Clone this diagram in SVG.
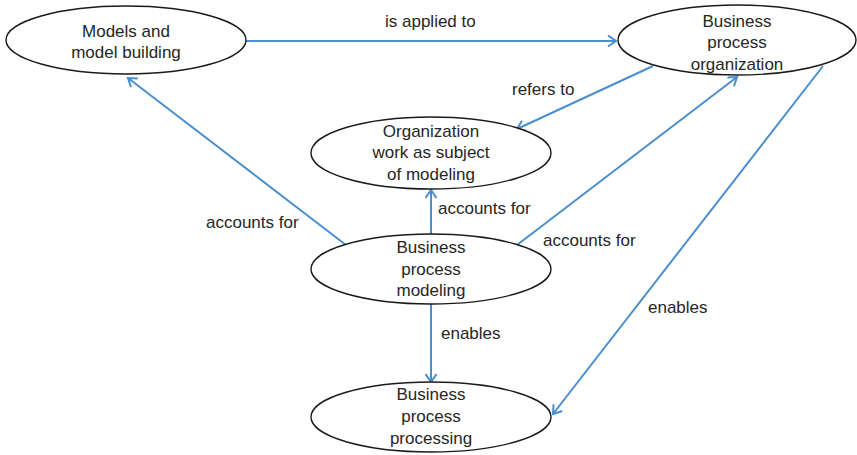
<svg xmlns="http://www.w3.org/2000/svg" width="857" height="455" viewBox="0 0 857 455">
<style>
.node{fill:#fff;stroke:#1a1a1a;stroke-width:1.4}
.t{font-family:"Liberation Sans",Arial,sans-serif;font-size:17px;fill:#262626;text-anchor:middle}
.l{font-family:"Liberation Sans",Arial,sans-serif;font-size:17px;fill:#262626}
.c{fill:none;stroke:#4A8ECF;stroke-width:2;marker-end:url(#ah)}
</style>
<defs>
<marker id="ah" markerUnits="userSpaceOnUse" markerWidth="14" markerHeight="14" refX="10" refY="6" orient="auto">
<path d="M2,0.5 L10,6 L2,11.5" fill="none" stroke="#4A8ECF" stroke-width="2"/>
</marker>
</defs>
<g id="connectors">
<line class="c" x1="246" y1="41" x2="616" y2="41"/>
<line class="c" x1="653" y1="66" x2="517" y2="129"/>
<line class="c" x1="346" y1="245" x2="128" y2="78"/>
<line class="c" x1="431" y1="234" x2="431" y2="190"/>
<line class="c" x1="517" y1="245" x2="737" y2="77"/>
<line class="c" x1="431" y1="304" x2="431" y2="382"/>
<line class="c" x1="823" y1="66" x2="553" y2="414"/>
<text class="l" x="385" y="27">is applied to</text>
<text class="l" x="512" y="95">refers to</text>
<text class="l" x="206" y="228">accounts for</text>
<text class="l" x="438" y="214">accounts for</text>
<text class="l" x="543" y="246">accounts for</text>
<text class="l" x="441" y="339">enables</text>
<text class="l" x="648" y="313">enables</text>
</g>
<g id="models">
<ellipse class="node" cx="126" cy="40" rx="120" ry="34"/>
<text class="t" x="126" y="37">Models and</text>
<text class="t" x="126" y="58">model building</text>
</g>
<g id="bpo">
<ellipse class="node" cx="737" cy="40" rx="119" ry="35"/>
<text class="t" x="737" y="27">Business</text>
<text class="t" x="737" y="48">process</text>
<text class="t" x="737" y="70">organization</text>
</g>
<g id="orgwork">
<ellipse class="node" cx="431" cy="153" rx="120" ry="36"/>
<text class="t" x="431" y="137">Organization</text>
<text class="t" x="431" y="158">work as subject</text>
<text class="t" x="431" y="180">of modeling</text>
</g>
<g id="bpm">
<ellipse class="node" cx="431" cy="269" rx="120" ry="35"/>
<text class="t" x="431" y="253">Business</text>
<text class="t" x="431" y="275">process</text>
<text class="t" x="431" y="296">modeling</text>
</g>
<g id="bpp">
<ellipse class="node" cx="431" cy="417" rx="120" ry="35"/>
<text class="t" x="431" y="400">Business</text>
<text class="t" x="431" y="422">process</text>
<text class="t" x="431" y="444">processing</text>
</g>
</svg>
